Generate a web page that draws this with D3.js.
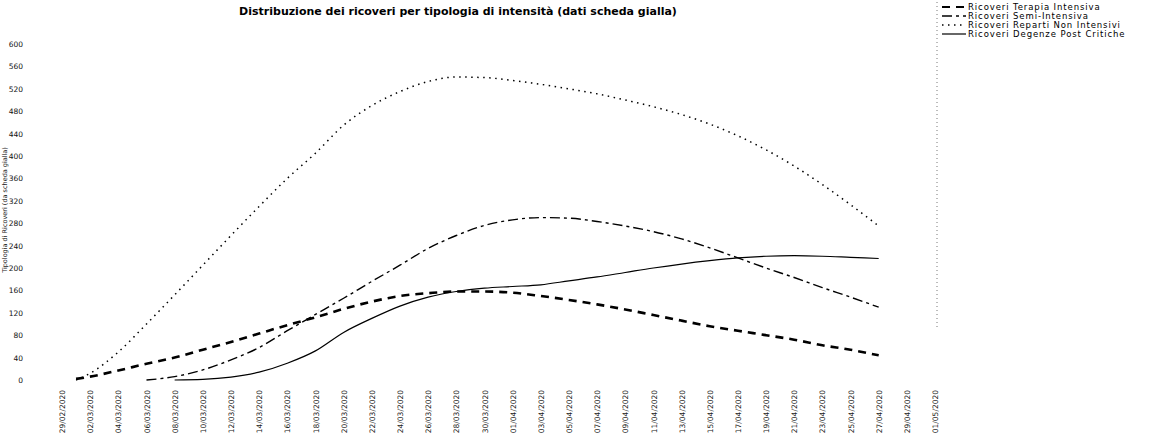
<!DOCTYPE html>
<html>
<head>
<meta charset="utf-8">
<script src="https://cdn.jsdelivr.net/npm/d3@7"></script>
<style>
  body { margin: 0; background: #fff; }
  svg { display: block; font-family: "DejaVu Sans", Verdana, sans-serif; }
</style>
</head>
<body>
<script>
// dates of the data points (dd/mm/yyyy)
const dates = ["01/03/2020", "02/03/2020", "04/03/2020", "06/03/2020", "08/03/2020", "10/03/2020",
  "12/03/2020", "14/03/2020", "16/03/2020", "18/03/2020", "20/03/2020", "22/03/2020", "24/03/2020",
  "26/03/2020", "28/03/2020", "30/03/2020", "01/04/2020", "03/04/2020", "05/04/2020", "07/04/2020",
  "09/04/2020", "11/04/2020", "13/04/2020", "15/04/2020", "17/04/2020", "19/04/2020", "21/04/2020",
  "23/04/2020", "25/04/2020", "27/04/2020"];

// series
const terapiaIntensiva = [2, 6, 17, 29, 40, 54, 68, 83, 98, 112, 127, 140, 150, 155, 158, 158, 156, 150, 143, 135,
  126, 116, 106, 96, 88, 80, 72, 62, 54, 44];
const semiIntensiva = [null, null, null, 0, 6, 18, 36, 58, 88, 117, 146, 176, 205, 235, 258, 276, 286, 290, 289, 283,
  275, 265, 252, 236, 218, 200, 183, 165, 148, 130];
const repartiNonIntensivi = [0, 12, 50, 100, 152, 205, 258, 310, 360, 405, 455, 490, 515, 533, 541, 540, 535, 528, 520, 511,
  500, 488, 474, 457, 436, 411, 382, 349, 313, 275];
const degenzePostCritiche = [null, null, null, null, 0, 1, 5, 14, 30, 52, 85, 110, 132, 148, 158, 164, 167, 170, 177, 184,
  192, 200, 207, 213, 218, 221, 222, 221, 219, 217];

// x tick labels
const xTicks = ["29/02/2020", "02/03/2020", "04/03/2020", "06/03/2020", "08/03/2020", "10/03/2020", "12/03/2020",
  "14/03/2020", "16/03/2020", "18/03/2020", "20/03/2020", "22/03/2020", "24/03/2020", "26/03/2020", "28/03/2020",
  "30/03/2020", "01/04/2020", "03/04/2020", "05/04/2020", "07/04/2020", "09/04/2020", "11/04/2020", "13/04/2020",
  "15/04/2020", "17/04/2020", "19/04/2020", "21/04/2020", "23/04/2020", "25/04/2020", "27/04/2020", "29/04/2020",
  "01/05/2020"];
const yTicks = [0, 40, 80, 120, 160, 200, 240, 280, 320, 360, 400, 440, 480, 520, 560, 600];

const seriesNames = ["Ricoveri Terapia Intensiva", "Ricoveri Semi-Intensiva",
  "Ricoveri Reparti Non Intensivi", "Ricoveri Degenze Post Critiche"];

const parseDate = d3.timeParse("%d/%m/%Y");

const width = 1153, height = 441;

const svg = d3.select("body").append("svg")
  .attr("width", width)
  .attr("height", height);

// scales
const x = d3.scaleTime()
  .domain([parseDate(xTicks[0]), parseDate(xTicks[xTicks.length - 1])])
  .range([62, 935]);
const y = d3.scaleLinear()
  .domain([0, 600])
  .range([380, 44]);

// title
svg.append("text")
  .attr("x", 458)
  .attr("y", 15)
  .attr("text-anchor", "middle")
  .style("font-size", "11px")
  .style("font-weight", "bold")
  .text("Distribuzione dei ricoveri per tipologia di intensità (dati scheda gialla)");

// y axis
const yAxis = svg.append("g")
  .attr("transform", "translate(26,0)")
  .call(d3.axisLeft(y).tickValues(yTicks).tickSize(0).tickPadding(3));
yAxis.select(".domain").remove();
yAxis.selectAll("text")
  .style("font-family", "DejaVu Sans, sans-serif")
  .style("font-size", "7.5px")
  .attr("fill", "#111");

svg.append("text")
  .attr("transform", "translate(7,210) rotate(-90)")
  .attr("text-anchor", "middle")
  .style("font-size", "6.5px")
  .attr("fill", "#222")
  .text("Tipologia di Ricoveri (da scheda gialla)");

// x axis (rotated labels)
const xAxis = svg.append("g")
  .attr("transform", "translate(0,388)")
  .call(d3.axisBottom(x).tickValues(xTicks.map(parseDate)).tickSize(0)
    .tickFormat(d3.timeFormat("%d/%m/%Y")));
xAxis.select(".domain").remove();
xAxis.selectAll("text")
  .style("font-family", "DejaVu Sans, sans-serif")
  .style("font-size", "7.5px")
  .attr("fill", "#222")
  .attr("text-anchor", "end")
  .attr("x", -2)
  .attr("y", 0)
  .attr("dy", "0.35em")
  .attr("transform", "rotate(-90)");

// line styles
const styles = [
  { data: terapiaIntensiva, width: 2.6, dash: "8,6" },
  { data: semiIntensiva, width: 1.4, dash: "10,4,3,4" },
  { data: repartiNonIntensivi, width: 1.5, dash: "1.5,4.5" },
  { data: degenzePostCritiche, width: 1.2, dash: null }
];

const line = d3.line()
  .defined(d => d.v != null)
  .x(d => x(d.date))
  .y(d => y(d.v))
  .curve(d3.curveMonotoneX);

styles.forEach(s => {
  const pts = dates.map((d, i) => ({ date: parseDate(d), v: s.data[i] }));
  svg.append("path")
    .datum(pts)
    .attr("d", line)
    .attr("fill", "none")
    .attr("stroke", "#000")
    .attr("stroke-width", s.width)
    .attr("stroke-dasharray", s.dash);
});

// legend border (dotted)
svg.append("line")
  .attr("x1", 937).attr("x2", 937)
  .attr("y1", 2).attr("y2", 330)
  .attr("stroke", "#555")
  .attr("stroke-width", 0.8)
  .attr("stroke-dasharray", "1,3");

// legend
const legend = svg.append("g").attr("transform", "translate(940,7)");
styles.forEach((s, i) => {
  const g = legend.append("g").attr("transform", "translate(0," + (i * 9) + ")");
  g.append("line")
    .attr("x1", 2).attr("x2", 26)
    .attr("y1", 0).attr("y2", 0)
    .attr("stroke", "#000")
    .attr("stroke-width", Math.min(s.width, 2))
    .attr("stroke-dasharray", s.dash ? s.dash : null);
  g.append("text")
    .attr("x", 28)
    .attr("y", 3)
    .style("font-size", "8.5px")
    .style("letter-spacing", "0.9px")
    .text(seriesNames[i]);
});
</script>
</body>
</html>
